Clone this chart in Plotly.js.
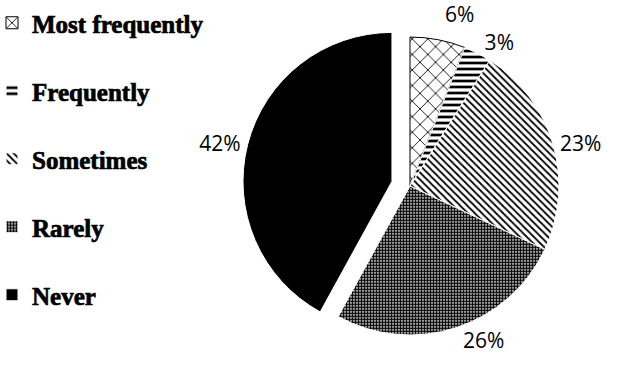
<!DOCTYPE html>
<html>
<head>
<meta charset="utf-8">
<script src="https://cdn.plot.ly/plotly-3.0.1.min.js"></script>
<style>html,body{margin:0;padding:0;background:#fff;}#chart{width:627px;height:376px;}path.textline{display:none;}g.legend text.legendtext{stroke:#000;stroke-width:0.7px;}</style>
</head>
<body>
<div id="chart"></div>
<script>
const categories = ["Most frequently", "Frequently", "Sometimes", "Rarely", "Never"];
const shares = [6, 3, 23, 26, 42];
const patternShapes = ["x", "-", "\\", ".", ""];
const sliceColors = ["white", "white", "white", "white", "black"];
const borderColors = ["black", "white", "white", "white", "white"];
const pulls = [0, 0, 0, 0, 0.125];

const legendLabels = categories.map(c => c + "<br>\u00a0");

const trace = {
  type: "pie",
  labels: legendLabels,
  values: shares,
  sort: false,
  direction: "clockwise",
  rotation: 0,
  pull: pulls,
  texttemplate: "%{value}%",
  textposition: "outside",
  outsidetextfont: {family: "Open Sans", size: 21, color: "#000"},
  hoverinfo: "label+percent",
  domain: {x: [0.3866, 0.9212], y: [0.0596, 0.951]},
  marker: {
    colors: sliceColors,
    line: {color: borderColors, width: 1},
    pattern: {
      shape: patternShapes,
      fgcolor: "black",
      bgcolor: sliceColors,
      size: [11, 6, 5, 3, 8],
      solidity: [0.15, 0.45, 0.35, 0.7, 0.3]
    }
  }
};

const layout = {
  width: 627,
  height: 376,
  margin: {l: 0, r: 0, t: 0, b: 0},
  paper_bgcolor: "white",
  showlegend: true,
  legend: {
    x: 0, xanchor: "left",
    y: 1, yanchor: "top",
    valign: "top",
    indentation: -8,
    bgcolor: "rgba(0,0,0,0)",
    font: {family: "Liberation Serif", size: 25, color: "#000", weight: "bold"},
    itemwidth: 30
  }
};

Plotly.newPlot("chart", [trace], layout, {staticPlot: true});
</script>
</body>
</html>
